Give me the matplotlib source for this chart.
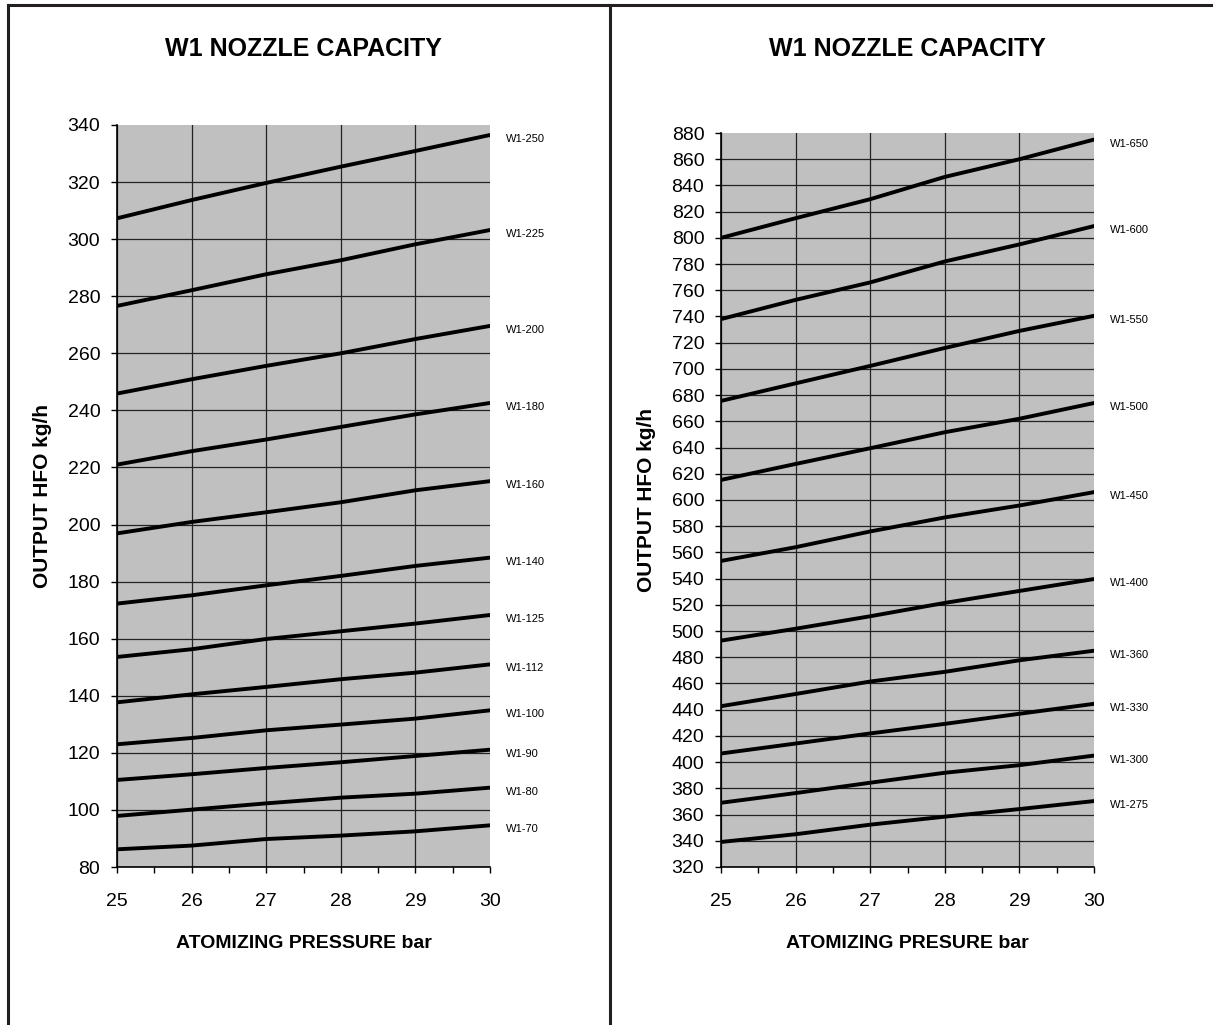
import matplotlib
matplotlib.use("Agg")
import matplotlib.pyplot as plt
from matplotlib.lines import Line2D
from matplotlib.ticker import MultipleLocator

plt.rcParams['font.family'] = ['Liberation Sans', 'DejaVu Sans']

# atomizing pressure (bar)
pressure = [25, 26, 27, 28, 29, 30]

# left chart: nozzle name -> output HFO kg/h
left_names = ["W1-250", "W1-225", "W1-200", "W1-180", "W1-160", "W1-140",
              "W1-125", "W1-112", "W1-100", "W1-90", "W1-80", "W1-70"]
w1_250 = [307.3, 313.7, 319.7, 325.4, 330.9, 336.5]
w1_225 = [276.6, 282.1, 287.7, 292.6, 298.2, 303.2]
w1_200 = [245.9, 250.9, 255.6, 260.0, 265.0, 269.6]
w1_180 = [221.0, 225.7, 229.8, 234.2, 238.6, 242.6]
w1_160 = [196.9, 200.9, 204.3, 207.8, 212.0, 215.2]
w1_140 = [172.3, 175.2, 178.7, 182.0, 185.5, 188.4]
w1_125 = [153.6, 156.3, 159.9, 162.6, 165.3, 168.3]
w1_112 = [137.7, 140.5, 143.1, 145.8, 148.1, 151.0]
w1_100 = [123.0, 125.2, 127.9, 129.9, 132.0, 134.9]
w1_90 = [110.5, 112.5, 114.7, 116.7, 118.9, 121.1]
w1_80 = [97.9, 100.1, 102.3, 104.3, 105.7, 107.8]
w1_70 = [86.2, 87.5, 89.8, 91.0, 92.5, 94.6]
left_values = [w1_250, w1_225, w1_200, w1_180, w1_160, w1_140,
               w1_125, w1_112, w1_100, w1_90, w1_80, w1_70]

# right chart
right_names = ["W1-650", "W1-600", "W1-550", "W1-500", "W1-450",
               "W1-400", "W1-360", "W1-330", "W1-300", "W1-275"]
w1_650 = [800.0, 815.0, 829.5, 846.5, 860.0, 875.0]
w1_600 = [738.0, 752.7, 766.0, 782.0, 795.0, 809.0]
w1_550 = [675.6, 689.0, 702.3, 716.0, 729.0, 740.5]
w1_500 = [615.3, 627.5, 639.5, 651.7, 662.0, 674.0]
w1_450 = [553.5, 564.0, 576.0, 586.7, 595.8, 606.0]
w1_400 = [492.7, 501.8, 511.3, 521.5, 530.6, 539.7]
w1_360 = [442.7, 452.0, 461.5, 468.9, 477.7, 485.0]
w1_330 = [406.6, 414.2, 421.9, 429.2, 436.9, 444.5]
w1_300 = [369.0, 376.4, 384.3, 391.9, 397.7, 405.0]
w1_275 = [339.1, 345.0, 352.3, 358.4, 364.2, 370.3]
right_values = [w1_650, w1_600, w1_550, w1_500, w1_450,
                w1_400, w1_360, w1_330, w1_300, w1_275]

title = "W1 NOZZLE CAPACITY"
ylabel = "OUTPUT HFO kg/h"
left_xlabel = "ATOMIZING PRESSURE bar"
right_xlabel = "ATOMIZING PRESURE bar"

W, H = 1213, 1025
fig = plt.figure(figsize=(W / 100, H / 100), dpi=100)

# panel frame lines
line_col = '#231f20'
fig.add_artist(Line2D([8 / W, 1], [1 - 5 / H, 1 - 5 / H], color=line_col, lw=2.2))
fig.add_artist(Line2D([8 / W, 8 / W], [0, 1 - 5 / H], color=line_col, lw=2.2))
fig.add_artist(Line2D([610 / W, 610 / W], [0, 1 - 5 / H], color=line_col, lw=2.2))


def make_panel(rect, names, values, ylim, xlabel):
    ax = fig.add_axes(rect)
    ax.set_facecolor('#c0c0c0')
    for name, vals in zip(names, values):
        ax.plot(pressure, vals, color='black', lw=2.8, solid_capstyle='round', zorder=3)
        ax.annotate(name, xy=(pressure[-1], vals[-1]), xytext=(16, -4),
                    textcoords='offset pixels', fontsize=8, va='center', ha='left',
                    annotation_clip=False)
    ax.set_xlim(25, 30)
    ax.set_ylim(*ylim)
    ax.xaxis.set_major_locator(MultipleLocator(1))
    ax.xaxis.set_minor_locator(MultipleLocator(0.5))
    ax.yaxis.set_major_locator(MultipleLocator(20))
    ax.grid(True, which='major', color='#222222', lw=0.9)
    ax.set_axisbelow(True)
    for s in ['top', 'right']:
        ax.spines[s].set_visible(False)
    for s in ['left', 'bottom']:
        ax.spines[s].set_color('black')
        ax.spines[s].set_linewidth(1.2)
    ax.tick_params(axis='y', which='major', length=4, width=1, pad=8, labelsize=14)
    ax.tick_params(axis='x', which='both', length=4, width=1, pad=15, labelsize=14)
    ax.set_ylabel(ylabel, fontsize=15, fontweight='bold')
    ax.yaxis.set_label_coords(-0.175, 0.5)
    ax.set_xlabel(xlabel, fontsize=14, fontweight='bold', labelpad=18)
    # no grid line on the plot's outer edges
    fig.canvas.draw()
    for t in ax.xaxis.get_major_ticks():
        if abs(t.get_loc() - 30) < 1e-6:
            t.gridline.set_visible(False)
    for t in ax.yaxis.get_major_ticks():
        if abs(t.get_loc() - ylim[1]) < 1e-6:
            t.gridline.set_visible(False)
    cx = rect[0] + rect[2] / 2
    fig.text(cx, 1 - 49 / H, title, fontsize=18, fontweight='bold', ha='center', va='center')
    return ax


make_panel([117 / W, 1 - 867 / H, 373 / W, 742 / H], left_names, left_values, (80, 340), left_xlabel)
make_panel([721 / W, 1 - 867 / H, 373 / W, 734 / H], right_names, right_values, (320, 880), right_xlabel)

fig.savefig("out.png", dpi=100)
